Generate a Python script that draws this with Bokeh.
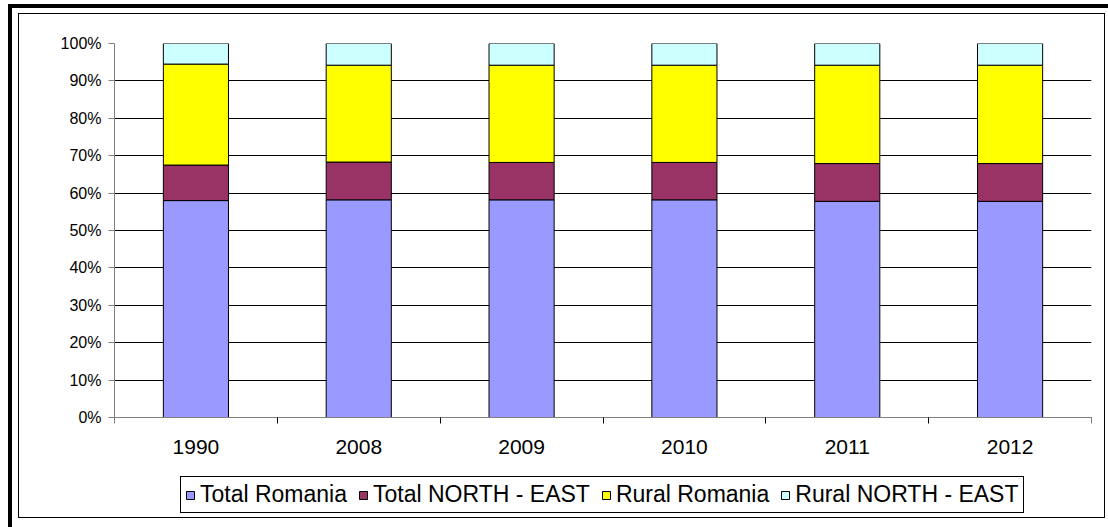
from bokeh.plotting import figure
from bokeh.models import (ColumnDataSource, Range1d, FixedTicker, PrintfTickFormatter,
                          Legend, LegendItem)
from bokeh.embed import file_html
from bokeh.resources import INLINE

# ---------------- data (percent of each bar) ----------------
years = ["1990", "2008", "2009", "2010", "2011", "2012"]
total_romania = [58.0, 58.2, 58.2, 58.2, 57.8, 57.8]
total_north_east = [9.5, 10.1, 10.0, 10.0, 10.1, 10.1]
rural_romania = [27.0, 25.9, 26.0, 26.0, 26.3, 26.3]
rural_north_east = [5.5, 5.8, 5.8, 5.8, 5.8, 5.8]
series_names = ["Total Romania", "Total NORTH - EAST", "Rural Romania", "Rural NORTH - EAST"]
y_ticks = [0, 10, 20, 30, 40, 50, 60, 70, 80, 90, 100]

FONT = "Liberation Sans"
colors = ["#9999FF", "#993366", "#FFFF00", "#CCFFFF"]
keys = ["total_romania", "total_north_east", "rural_romania", "rural_north_east"]

# category i is centred at 2*i+1; boundaries at even numbers
xpos = [2 * i + 1 for i in range(len(years))]
source = ColumnDataSource(dict(
    x=xpos, year=years,
    total_romania=total_romania, total_north_east=total_north_east,
    rural_romania=rural_romania, rural_north_east=rural_north_east,
))

# The frame reaches down to the bottom of the chart box so that the legend
# (drawn inside the frame) is not clipped; the value axis only spans 0..100 %.
p = figure(
    width=1085, height=503,
    x_range=Range1d(0, 2 * len(years)), y_range=Range1d(-26.2, 100),
    output_backend="svg", toolbar_location=None,
    min_border_left=95, min_border_right=13, min_border_top=29, min_border_bottom=2,
    background_fill_color="white", border_fill_color="white",
    outline_line_color=None,
    styles={
        "position": "relative", "left": "19px", "top": "14px",
        "outline": "1px solid #000000",
        "box-shadow": "1px 2px 0 8px #ffffff, -1px 0px 0 10px #000000",
    },
)

renderers = p.vbar_stack(keys, x="x", width=0.8, color=colors, line_color="black",
                         line_width=1, source=source)

# y axis
p.yaxis.ticker = FixedTicker(ticks=y_ticks, minor_ticks=[])
p.yaxis.formatter = PrintfTickFormatter(format="%d%%")
p.yaxis.bounds = (0, 100)
p.yaxis.major_tick_in = 0
p.yaxis.major_tick_out = 6
p.yaxis.minor_tick_in = 0
p.yaxis.minor_tick_out = 0
p.yaxis.axis_line_color = "#808080"
p.yaxis.major_tick_line_color = "#808080"
p.yaxis.major_label_text_font = FONT
p.yaxis.major_label_text_font_size = "16px"
p.yaxis.major_label_text_color = "black"
p.yaxis.major_label_standoff = 7

# x axis: labels at category centres, ticks at category boundaries, drawn at 0 %
p.xaxis.fixed_location = 0
p.xaxis.ticker = FixedTicker(ticks=xpos, minor_ticks=list(range(0, 2 * len(years) + 1, 2)))
p.xaxis.major_label_overrides = {xv: yr for xv, yr in zip(xpos, years)}
p.xaxis.major_tick_in = 0
p.xaxis.major_tick_out = 0
p.xaxis.minor_tick_in = 0
p.xaxis.minor_tick_out = 6
p.xaxis.minor_tick_line_color = "#000000"
p.xaxis.axis_line_color = "#808080"
p.xaxis.major_label_text_font = FONT
p.xaxis.major_label_text_font_size = "21px"
p.xaxis.major_label_text_color = "black"
p.xaxis.major_label_standoff = 16

p.xgrid.grid_line_color = None
p.ygrid.grid_line_color = "black"
p.ygrid.grid_line_width = 1

items = [LegendItem(label=n, renderers=[r]) for n, r in zip(series_names, renderers)]
legend = Legend(
    items=items, orientation="horizontal", location=(66, 2),
    border_line_color="black", border_line_width=1, border_line_alpha=1,
    background_fill_color="white", background_fill_alpha=1,
    label_text_font=FONT, label_text_font_size="23px", label_text_color="black",
    glyph_width=10, glyph_height=10, label_standoff=5, spacing=11, padding=4,
    margin=0, label_height=20,
)
p.add_layout(legend)

open("out.html", "w").write(file_html(p, INLINE))
